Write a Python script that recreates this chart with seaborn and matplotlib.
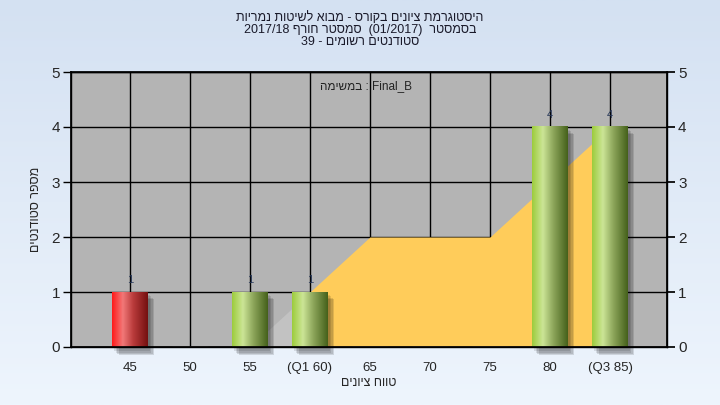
import re
import numpy as np
import pandas as pd
import matplotlib
matplotlib.use("Agg")
import matplotlib.pyplot as plt
import seaborn as sns
from matplotlib.colors import LinearSegmentedColormap
from matplotlib.patches import Rectangle

# נתונים
ranges = ["45", "50", "55", "60", "65", "70", "75", "80", "85"]
tick_labels = ["45", "50", "55", "(Q1 60)", "65", "70", "75", "80", "(Q3 85)"]
students = [1, 0, 1, 1, 0, 0, 0, 4, 4]
# שטח ברקע (כתום)
area_vals = [0, 0, 0, 1, 2, 2, 2, 3, 4]
failed = ["45"]

title_lines = [
    "היסטוגרמת ציונים בקורס - מבוא לשיטות נמריות",
    "בסמסטר  (01/2017)  סמסטר חורף 2017/18",
    "סטודנטים רשומים - 39",
]
task_label = "Final_B : במשימה"
xlabel = "טווח ציונים"
ylabel = "מספר סטודנטים"


def rtl(s):
    # matplotlib has no bidi, so put the text in visual order
    r = s[::-1]
    return re.sub(r"[0-9A-Za-z_/.()]+", lambda m: m.group(0)[::-1], r)


sns.set_theme(style="white")
plt.rcParams["font.family"] = ["Liberation Sans", "DejaVu Sans"]

df = pd.DataFrame({"range": ranges, "students": students})

fig = plt.figure(figsize=(7.2, 4.05), dpi=100)

# רקע מדורג
bg = fig.add_axes([0, 0, 1, 1], zorder=-10)
grad = np.linspace(0, 1, 256).reshape(-1, 1)
bg_cmap = LinearSegmentedColormap.from_list("bg", ["#d4e1f2", "#eef5fd"])
bg.imshow(grad, cmap=bg_cmap, aspect="auto", extent=[0, 1, 0, 1])
bg.axis("off")

ax = fig.add_axes([71 / 720, 1 - 347 / 405, 596 / 720, 275 / 405])
ax.set_facecolor("#b4b4b4")

sns.barplot(data=df, x="range", y="students", order=ranges, color="#9ccc3c",
            width=0.59, saturation=1, ax=ax, zorder=4)

pos = np.arange(len(ranges))
# שטח כתום
ax.fill_between(pos[2:4], area_vals[2:4], color="#c2c2c2", lw=0, zorder=1)
ax.fill_between(pos[3:], area_vals[3:], color="#ffcc5a", lw=0, zorder=1)

green = LinearSegmentedColormap.from_list(
    "g", [(0, "#9ccc3c"), (0.3, "#cce596"), (0.6, "#8ca55a"), (1, "#45611b")])
red = LinearSegmentedColormap.from_list(
    "r", [(0, "#ff1a1a"), (0.3, "#f27878"), (0.6, "#b83a3a"), (1, "#741010")])
hgrad = np.linspace(0, 1, 128).reshape(1, -1)

for lab, p in zip(ranges, ax.patches):
    x0, w, h = p.get_x(), p.get_width(), p.get_height()
    if h <= 0:
        continue
    # צל
    for k, a in enumerate([0.1, 0.1, 0.12, 0.12]):
        d = 0.025 * (k + 1)
        ax.add_patch(Rectangle((x0 + d + 0.01, -0.08 - 0.02 * k), w, h + 0.02,
                               color="black", alpha=a, lw=0, zorder=2,
                               clip_on=False))
    cm = red if lab in failed else green
    ax.imshow(hgrad, cmap=cm, aspect="auto", extent=[x0, x0 + w, 0, h],
              zorder=5)
    p.set_visible(False)
    ax.text(p.get_x() + w / 2, h + 0.22, str(int(h)), ha="center",
            va="center", fontsize=8, color="#2a3a5a", zorder=6)

ax.set_xlim(-0.98, 8.95)
ax.set_ylim(0, 5)
ax.set_yticks(range(6))
ax.set_xticks(pos)
ax.set_xticklabels(tick_labels, fontsize=9.5)
ax.set_xticks([-0.98, 8.95], minor=True)
ax.grid(True, color="black", lw=1, zorder=0)
ax.set_axisbelow(True)
for s in ax.spines.values():
    s.set_color("black")
    s.set_linewidth(1)
ax.tick_params(axis="both", which="both", direction="out", length=6,
               color="black", width=1)
ax.tick_params(axis="y", labelsize=11, pad=2)
ax.tick_params(axis="x", pad=5)

ax2 = ax.twinx()
ax2.set_ylim(0, 5)
ax2.set_yticks(range(6))
ax2.tick_params(axis="y", direction="out", length=6, color="black",
                labelsize=11, pad=2)
for s in ax2.spines.values():
    s.set_color("black")

ax.set_xlabel(rtl(xlabel), fontsize=9)
ax.xaxis.set_label_coords(0.5, -0.11)
ax.set_ylabel(rtl(ylabel), fontsize=9)
ax.yaxis.set_label_coords(-0.048, 0.5)

ax.text(3.94, 4.75, rtl(task_label), ha="center", va="center", fontsize=8.5,
        color="#222222", zorder=6)

for i, line in enumerate(title_lines):
    fig.text(0.5, 1 - (18 + 12 * i) / 405, rtl(line), ha="center",
             va="center", fontsize=9, color="#1a1a2a")

fig.savefig("out.png", dpi=100)
